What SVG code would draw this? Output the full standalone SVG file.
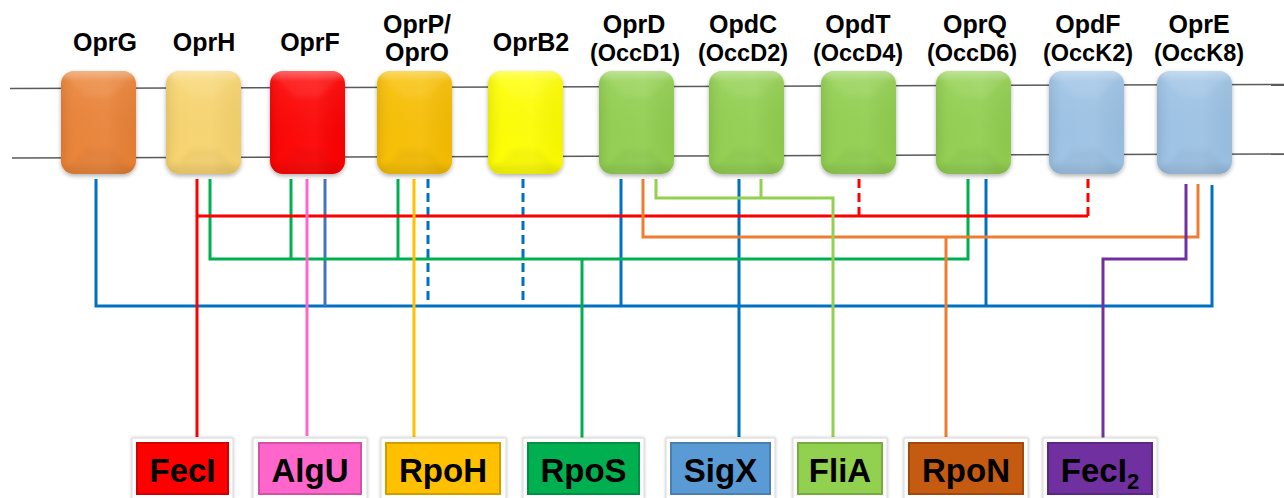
<svg xmlns="http://www.w3.org/2000/svg" width="1284" height="498" viewBox="0 0 1284 498">
<style>
.lbl{font-family:"Liberation Sans",Arial,sans-serif;font-weight:bold;font-size:25px;fill:#000;text-anchor:middle}
.lbl2{font-family:"Liberation Sans",Arial,sans-serif;font-weight:bold;font-size:23.5px;fill:#000;text-anchor:middle}
.blbl{font-family:"Liberation Sans",Arial,sans-serif;font-weight:bold;font-size:33px;fill:#000;text-anchor:middle}
.mem{stroke:#5a5a5a;stroke-width:1.5;fill:none}
.c{fill:none;stroke-width:3;stroke-linejoin:miter;stroke-linecap:butt}
.dash{stroke-dasharray:9 5}
.blue{stroke:#0070C0}.sblue{stroke:#4472C4}.red{stroke:#FF0000}.green{stroke:#00B050}
.pink{stroke:#FF66CC}.gold{stroke:#FFC000}.orange{stroke:#ED7D31}.lgreen{stroke:#92D050}.purple{stroke:#7030A0}
.frame{fill:#fff;stroke:#d9d9d9;stroke-width:1}
.bev{fill:none;stroke:#000;stroke-opacity:0.18;stroke-width:2}
</style>
<defs>
<filter id="sh" x="-20%" y="-20%" width="140%" height="140%">
<feDropShadow dx="0" dy="2" stdDeviation="2" flood-color="#000" flood-opacity="0.3"/>
</filter>
<filter id="sh2" x="-20%" y="-20%" width="140%" height="140%">
<feDropShadow dx="0" dy="0" stdDeviation="1.5" flood-color="#000" flood-opacity="0.25"/>
</filter>
<filter id="blur" x="-10%" y="-10%" width="120%" height="120%">
<feGaussianBlur stdDeviation="2.5"/>
</filter>
<linearGradient id="hg" x1="0" y1="0" x2="1" y2="0">
<stop offset="0" stop-color="#000" stop-opacity="0.08"/>
<stop offset="0.2" stop-color="#fff" stop-opacity="0.03"/>
<stop offset="0.6" stop-color="#fff" stop-opacity="0.06"/>
<stop offset="1" stop-color="#000" stop-opacity="0.03"/>
</linearGradient>
<linearGradient id="vg" x1="0" y1="0" x2="0" y2="1">
<stop offset="0" stop-color="#fff" stop-opacity="0.35"/>
<stop offset="0.1" stop-color="#fff" stop-opacity="0.06"/>
<stop offset="0.88" stop-color="#000" stop-opacity="0"/>
<stop offset="1" stop-color="#000" stop-opacity="0.08"/>
</linearGradient>
<clipPath id="pc"><rect x="0" y="0" width="75" height="103" rx="13"/></clipPath>
<g id="pillow">
<rect x="0" y="0" width="75" height="103" rx="13" fill="url(#hg)"/>
<rect x="0" y="0" width="75" height="103" rx="13" fill="url(#vg)"/>
<g clip-path="url(#pc)" filter="url(#blur)">
<polygon points="0,0 75,0 50,26 25,26" fill="#fff" fill-opacity="0.07"/>
<polygon points="0,103 75,103 50,78 25,78" fill="#000" fill-opacity="0.04"/>
</g>
</g>
</defs>
<rect width="1284" height="498" fill="#fff"/>

<g id="membrane">
<line class="mem" x1="10" y1="88.5" x2="1284" y2="84.5"/>
<line class="mem" x1="12" y1="158" x2="1284" y2="154"/>
</g>

<g id="connectors">
<path class="c blue" d="M96,179 V306 H1212 V185"/>
<path class="c blue" d="M621,179 V306"/>
<path class="c blue" d="M986,179 V306"/>
<path class="c blue" d="M739,179 V437"/>
<path class="c sblue" d="M325,179 V306"/>
<path class="c blue dash" d="M428,179 V306"/>
<path class="c blue dash" d="M523,179 V306"/>
<path class="c green" d="M210,179 V259 H968 V179"/>
<path class="c green" d="M291,179 V259"/>
<path class="c green" d="M398,179 V259"/>
<path class="c green" d="M582,259 V438"/>
<path class="c red" d="M197,179 V437"/>
<path class="c red" d="M197,216 H1088"/>
<path class="c red dash" d="M1088,216 V178"/>
<path class="c red dash" d="M859,216 V177"/>
<path class="c pink" d="M307,179 V436"/>
<path class="c gold" d="M414,179 V437"/>
<path class="c orange" d="M643,179 V237 H1198 V184"/>
<path class="c orange" d="M946,237 V437"/>
<path class="c lgreen" d="M656,179 V198 H833 V437"/>
<path class="c lgreen" d="M761,179 V198"/>
<path class="c purple" d="M1186,184 V259 H1103 V438"/>
</g>

<g id="OprG">
<rect x="61" y="71" width="75" height="103" rx="13" fill="#EB8236" filter="url(#sh)"/>
<use href="#pillow" x="61" y="71"/>
<text class="lbl" x="105" y="51">OprG</text>
</g>
<g id="OprH">
<rect x="166" y="71" width="75" height="103" rx="13" fill="#F9D56E" filter="url(#sh)"/>
<use href="#pillow" x="166" y="71"/>
<text class="lbl" x="204" y="51">OprH</text>
</g>
<g id="OprF">
<rect x="270" y="71" width="75" height="103" rx="13" fill="#FF0000" filter="url(#sh)"/>
<use href="#pillow" x="270" y="71"/>
<text class="lbl" x="310" y="51">OprF</text>
</g>
<g id="OprPO">
<rect x="377" y="71" width="75" height="103" rx="13" fill="#F9BF00" filter="url(#sh)"/>
<use href="#pillow" x="377" y="71"/>
<text class="lbl" x="417" y="33">OprP/</text>
<text class="lbl" x="417" y="61">OprO</text>
</g>
<g id="OprB2">
<rect x="488" y="71" width="75" height="103" rx="13" fill="#FFFF00" filter="url(#sh)"/>
<use href="#pillow" x="488" y="71"/>
<text class="lbl" x="531" y="51">OprB2</text>
</g>
<g id="OprD">
<rect x="599" y="71" width="75" height="103" rx="13" fill="#92D050" filter="url(#sh)"/>
<use href="#pillow" x="599" y="71"/>
<text class="lbl" x="634" y="33">OprD</text>
<text class="lbl2" x="635" y="61">(OccD1)</text>
</g>
<g id="OpdC">
<rect x="709" y="71" width="75" height="103" rx="13" fill="#92D050" filter="url(#sh)"/>
<use href="#pillow" x="709" y="71"/>
<text class="lbl" x="743" y="33">OpdC</text>
<text class="lbl2" x="743" y="61">(OccD2)</text>
</g>
<g id="OpdT">
<rect x="821" y="71" width="75" height="103" rx="13" fill="#92D050" filter="url(#sh)"/>
<use href="#pillow" x="821" y="71"/>
<text class="lbl" x="858" y="33">OpdT</text>
<text class="lbl2" x="858" y="61">(OccD4)</text>
</g>
<g id="OprQ">
<rect x="936" y="71" width="75" height="103" rx="13" fill="#92D050" filter="url(#sh)"/>
<use href="#pillow" x="936" y="71"/>
<text class="lbl" x="975" y="33">OprQ</text>
<text class="lbl2" x="972" y="61">(OccD6)</text>
</g>
<g id="OpdF">
<rect x="1049" y="71" width="75" height="103" rx="13" fill="#9DC3E6" filter="url(#sh)"/>
<use href="#pillow" x="1049" y="71"/>
<text class="lbl" x="1088" y="33">OpdF</text>
<text class="lbl2" x="1088" y="61">(OccK2)</text>
</g>
<g id="OprE">
<rect x="1157" y="71" width="75" height="103" rx="13" fill="#9DC3E6" filter="url(#sh)"/>
<use href="#pillow" x="1157" y="71"/>
<text class="lbl" x="1199" y="33">OprE</text>
<text class="lbl2" x="1199" y="61">(OccK8)</text>
</g>

<g id="FecI">
<rect class="frame" x="132" y="438" width="101" height="62" filter="url(#sh2)"/>
<rect x="136" y="442" width="93" height="53" fill="#FF0000"/>
<rect class="bev" x="137" y="443" width="91" height="51"/>
<text class="blbl" x="182.5" y="482">FecI</text>
</g>
<g id="AlgU">
<rect class="frame" x="253" y="438" width="114" height="62" filter="url(#sh2)"/>
<rect x="258" y="442" width="104" height="53" fill="#FF66CC"/>
<rect class="bev" x="259" y="443" width="102" height="51"/>
<text class="blbl" x="310" y="482">AlgU</text>
</g>
<g id="RpoH">
<rect class="frame" x="381" y="438" width="125" height="62" filter="url(#sh2)"/>
<rect x="385" y="442" width="116" height="53" fill="#FFC000"/>
<rect class="bev" x="386" y="443" width="114" height="51"/>
<text class="blbl" x="443" y="482">RpoH</text>
</g>
<g id="RpoS">
<rect class="frame" x="523" y="438" width="121" height="62" filter="url(#sh2)"/>
<rect x="527" y="442" width="113" height="53" fill="#00B050"/>
<rect class="bev" x="528" y="443" width="111" height="51"/>
<text class="blbl" x="583.5" y="482">RpoS</text>
</g>
<g id="SigX">
<rect class="frame" x="666" y="438" width="109" height="62" filter="url(#sh2)"/>
<rect x="670" y="442" width="101" height="53" fill="#5B9BD5"/>
<rect class="bev" x="671" y="443" width="99" height="51"/>
<text class="blbl" x="720.5" y="482">SigX</text>
</g>
<g id="FliA">
<rect class="frame" x="793" y="438" width="94" height="62" filter="url(#sh2)"/>
<rect x="797" y="442" width="86" height="53" fill="#92D050"/>
<rect class="bev" x="798" y="443" width="84" height="51"/>
<text class="blbl" x="840" y="482">FliA</text>
</g>
<g id="RpoN">
<rect class="frame" x="904" y="438" width="124" height="62" filter="url(#sh2)"/>
<rect x="908" y="442" width="116" height="53" fill="#C55A11"/>
<rect class="bev" x="909" y="443" width="114" height="51"/>
<text class="blbl" x="966" y="482">RpoN</text>
</g>
<g id="FecI2">
<rect class="frame" x="1043" y="438" width="114" height="62" filter="url(#sh2)"/>
<rect x="1047" y="442" width="106" height="53" fill="#7030A0"/>
<rect class="bev" x="1048" y="443" width="104" height="51"/>
<text class="blbl" x="1100" y="482">FecI<tspan font-size="22" dy="7">2</tspan></text>
</g>
</svg>
